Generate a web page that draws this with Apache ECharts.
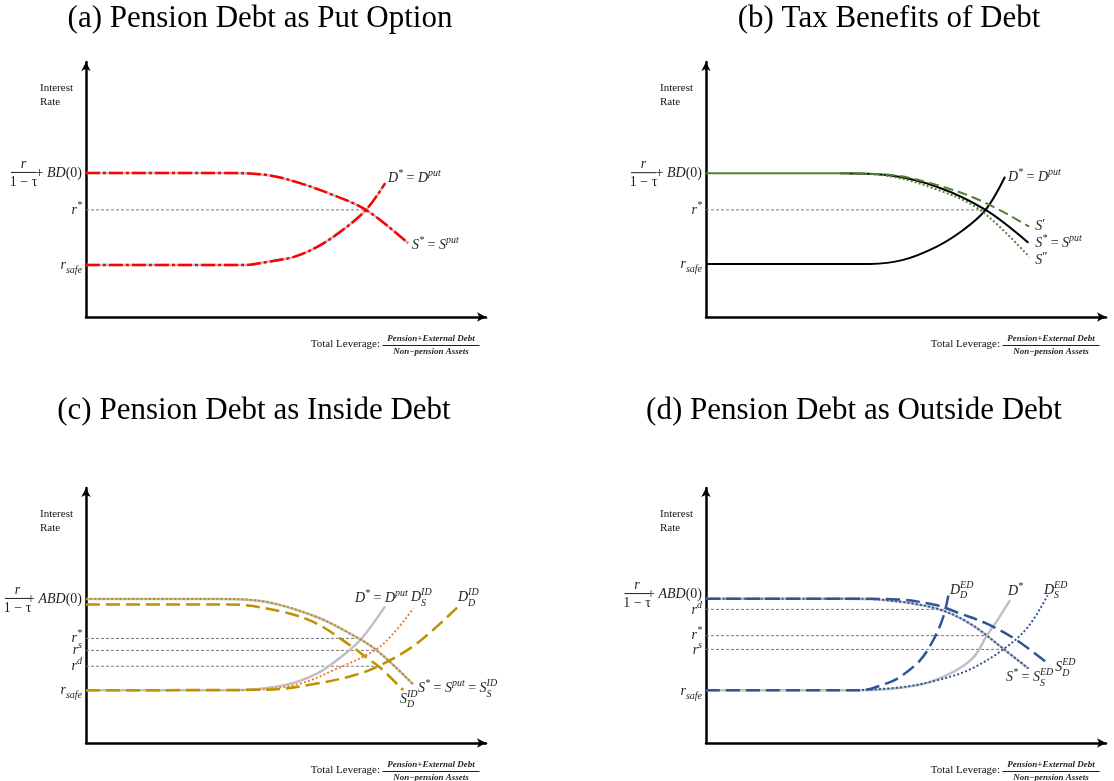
<!DOCTYPE html>
<html><head><meta charset="utf-8">
<script src="https://cdn.jsdelivr.net/npm/echarts@6/dist/echarts.min.js"></script>
<style>html,body{margin:0;padding:0;background:#fff}#c{width:1114px;height:781px}</style>
</head><body><div id="c"></div>
<script>
// ---------------- DATA (x: total leverage 0-100, y: interest rate 0-100) ----------------
// Panel (a)
const aSupply = [[0,56.5],[33.5,56.5],[45.2,55.7],[53.5,52.5],[61.8,47.8],[70,42],[80.5,29]];
const aDemand = [[0,20.4],[40,20.4],[45.2,21.6],[51.8,23.5],[57.8,27.5],[63.5,33.3],[70,42],[74.8,52.5]];
const aLevels = [42];            // r*
const aLevelEnds = [70];
// Panel (b)
const bTop = [[0,56.4],[33.5,56.4]];
const bSupply = [[33.5,56.4],[45.2,55.7],[57.7,51.1],[69.9,42],[80.6,29.1]];
const bSupplyP = [[33.5,56.4],[45.2,55.9],[57.7,51.8],[69.3,45.2],[80.8,35.4]];
const bSupplyPP = [[33.5,56.4],[45.2,55.4],[57.7,50],[68.5,42],[80.8,23.6]];
const bDemand = [[0,20.8],[41,20.8],[49.3,22.4],[57.7,27.6],[64.3,34.1],[69.9,42],[74.75,55]];
const bLevels = [42];
const bLevelEnds = [69.9];
// Panel (c)
const cSupply = [[0,56.5],[33.5,56.5],[45.2,55.3],[57.7,49.4],[66,42.9],[72.5,36.6],[81.8,23]];
const cSupplyD = [[0,54.3],[36,54.3],[49.3,51.4],[57.7,46.8],[66,38.3],[70.2,33.4],[73.5,29.6],[79.3,20.7]];
const cDemand = [[0,20.7],[36.8,20.7],[49.3,22.6],[57.7,27.2],[64.3,34.4],[68.9,41],[74.75,53.6]];
const cDemandS = [[36.8,20.7],[41.8,20.8],[53.5,23.3],[61.8,28.5],[72.25,36.4],[76.8,42.9],[81.8,52.7]];
const cDemandD = [[0,20.7],[45.2,20.9],[57.7,23.3],[66.8,26.5],[73.1,30.1],[82.7,39],[93.1,53.6]];
const cLevels = [41, 36.3, 30.1];   // r*, r^s, r^d
const cLevelEnds = [68.9, 72.25, 73.1];
// Panel (d)
const dSupply = [[0,56.6],[35,56.6],[45.2,56],[57.7,52.7],[66,46.8],[74.3,37],[80.6,29.2]];
const dSupplyD = [[0,56.6],[35,56.6],[47.7,56.3],[57.7,54],[64,50.5],[70.2,46.8],[77.5,40.5],[86,30.5]];
const dDemand = [[0,20.7],[38.5,20.7],[52.7,22.6],[61,27.2],[66.8,33.5],[70.2,42.1],[73,48.5],[76,56]];
const dDemandD = [[0,20.7],[38.5,20.7],[45.2,23.4],[48.5,25.9],[53.5,32.4],[56.8,40.3],[59.3,49.4],[60.8,59.5]];
const dDemandS = [[38,20.7],[48.5,21.8],[56.8,24.2],[65.5,28.5],[74.3,36.7],[80.5,45.5],[85.4,57.9]];
const dLevels = [52.4, 42.1, 36.7];  // r^d, r*, r^s
const dLevelEnds = [59.75, 70.2, 74.3];
// Tick label levels
const aTickVals = [56.5, 42, 20.4];
const bTickVals = [56.4, 42, 20.8];
const cTickVals = [56.5, 41, 36.3, 30.1, 20.7];
const dTickVals = [58.4, 52.2, 42.1, 36.5, 20.4];
const titles = ['(a) Pension Debt as Put Option','(b) Tax Benefits of Debt','(c) Pension Debt as Inside Debt','(d) Pension Debt as Outside Debt'];

// ---------------- STYLE ----------------
const TXT = '#1f1f1f';
const MF = "'Liberation Serif', 'Times New Roman', serif";
const C = {red:'#ff0000', grey:'#c0c0c0', green:'#548235', black:'#000000', gold:'#bf9000', orange:'#ed7d31', blue:'#2f5597', ref:'#7a7a7a'};
const RICH = {
  m:{fontFamily:MF, fontStyle:'italic', fontSize:14, lineHeight:20, color:TXT},
  n:{fontFamily:MF, fontSize:14, lineHeight:20, color:TXT},
  sp:{fontFamily:MF, fontStyle:'italic', fontSize:10, lineHeight:10, verticalAlign:'top', color:TXT},
  pr:{fontFamily:MF, fontSize:13, lineHeight:14, verticalAlign:'top', color:TXT},
  sb:{fontFamily:MF, fontStyle:'italic', fontSize:10, lineHeight:10, verticalAlign:'bottom', color:TXT},
  sbx:{fontFamily:MF, fontStyle:'italic', fontSize:10, lineHeight:10, color:TXT}
};
const cvs = document.createElement('canvas').getContext('2d');
function tw(text, st){ cvs.font = (st.fontStyle||'normal')+' normal '+st.fontSize+'px '+st.fontFamily; return cvs.measureText(text).width; }

function mathLabel(coord, tokens, align){
  align = align || 'left';
  const parts = [], extras = []; let x = 0;
  tokens.forEach(t => {
    if (t[0] === 'ss') { parts.push('{sp|'+t[1]+'}'); extras.push({txt:t[2], dx:x}); x += tw(t[1], RICH.sp); }
    else { parts.push('{'+t[0]+'|'+t[1]+'}'); x += tw(t[1], RICH[t[0]]); }
  });
  const ox = align === 'right' ? -4 : 0;
  const items = [{coord:coord, symbol:'circle', symbolSize:0, label:{show:true, position:'inside', align:align, verticalAlign:'middle', offset:[ox,0], formatter:()=>parts.join(''), rich:RICH}}];
  extras.forEach(e => items.push({coord:coord, symbol:'circle', symbolSize:0, label:{show:true, position:'inside', align:'left', verticalAlign:'middle', offset:[ox+e.dx, 5.5], formatter:()=>'{sbx|'+e.txt+'}', rich:RICH}}));
  return items;
}
function line(grid, data, color, width, type, z){
  return {type:'line', xAxisIndex:grid, yAxisIndex:grid, data:data, smooth:0.35, showSymbol:false, symbol:'none', silent:true, z:z||2,
    lineStyle:{color:color, width:width, type:type||'solid', cap:'butt'}};
}
function refSeries(grid, levels, ends, marks){
  const out = levels.map((lv,i) => Object.assign(line(grid, [[0,lv],[ends[i],lv]], C.ref, 1, [3,2], 1), {smooth:false}));
  out[0].markPoint = {silent:true, data:marks};
  return out;
}
const DASH_DOT = [14,3,3,3], DASH = [14,6], DOT = [2,2.2];

const grids = [
  {left:86, top:62, width:400, height:255},
  {left:706, top:62, width:400, height:255},
  {left:86, top:488, width:400, height:255},
  {left:706, top:488, width:400, height:255}
];
function axis(i){ return {gridIndex:i, type:'value', min:0, max:100,
  axisLine:{show:true, onZero:false, symbol:['none','arrow'], symbolSize:[7,9], lineStyle:{color:'#000', width:2.5}},
  axisTick:{show:false}, axisLabel:{show:false}, splitLine:{show:false}}; }

const star = ['sp','*'];
const marksA = [
  ...mathLabel([0,aTickVals[0]], [['n','+ '],['m','BD'],['n','(0)']], 'right'),
  ...mathLabel([0,aTickVals[1]], [['m','r'],star], 'right'),
  ...mathLabel([0,aTickVals[2]], [['m','r'],['sb','safe']], 'right'),
  ...mathLabel([75.5,54.5], [['m','D'],star,['n',' = '],['m','D'],['sp','put']]),
  ...mathLabel([81.5,28.2], [['m','S'],star,['n',' = '],['m','S'],['sp','put']])
];
const marksB = [
  ...mathLabel([0,bTickVals[0]], [['n','+ '],['m','BD'],['n','(0)']], 'right'),
  ...mathLabel([0,bTickVals[1]], [['m','r'],star], 'right'),
  ...mathLabel([0,bTickVals[2]], [['m','r'],['sb','safe']], 'right'),
  ...mathLabel([75.5,54.9], [['m','D'],star,['n',' = '],['m','D'],['sp','put']]),
  ...mathLabel([82.3,35.4], [['m','S'],['pr','′']]),
  ...mathLabel([82.3,29], [['m','S'],star,['n',' = '],['m','S'],['sp','put']]),
  ...mathLabel([82.3,22.4], [['m','S'],['pr','″']])
];
const marksC = [
  ...mathLabel([0,cTickVals[0]], [['n','+ '],['m','ABD'],['n','(0)']], 'right'),
  ...mathLabel([0,cTickVals[1]], [['m','r'],star], 'right'),
  ...mathLabel([0,cTickVals[2]], [['m','r'],['sp','s']], 'right'),
  ...mathLabel([0,cTickVals[3]], [['m','r'],['sp','d']], 'right'),
  ...mathLabel([0,cTickVals[4]], [['m','r'],['sb','safe']], 'right'),
  ...mathLabel([67.25,56.7], [['m','D'],star,['n',' = '],['m','D'],['sp','put']]),
  ...mathLabel([81.25,57.1], [['m','D'],['ss','ID','S']]),
  ...mathLabel([93,57.1], [['m','D'],['ss','ID','D']]),
  ...mathLabel([78.5,17.2], [['m','S'],['ss','ID','D']]),
  ...mathLabel([83,21.3], [['m','S'],star,['n',' = '],['m','S'],['sp','put'],['n',' = '],['m','S'],['ss','ID','S']])
];
const marksD = [
  ...mathLabel([0,dTickVals[0]], [['n','+ '],['m','ABD'],['n','(0)']], 'right'),
  ...mathLabel([0,dTickVals[1]], [['m','r'],['sp','d']], 'right'),
  ...mathLabel([0,dTickVals[2]], [['m','r'],star], 'right'),
  ...mathLabel([0,dTickVals[3]], [['m','r'],['sp','s']], 'right'),
  ...mathLabel([0,dTickVals[4]], [['m','r'],['sb','safe']], 'right'),
  ...mathLabel([61,59.9], [['m','D'],['ss','ED','D']]),
  ...mathLabel([75.5,59.3], [['m','D'],star]),
  ...mathLabel([84.5,59.9], [['m','D'],['ss','ED','S']]),
  ...mathLabel([87.3,29.6], [['m','S'],['ss','ED','D']]),
  ...mathLabel([75,25.6], [['m','S'],star,['n',' = '],['m','S'],['ss','ED','S']])
];

const series = [
  // (a)
  ...refSeries(0, aLevels, aLevelEnds, marksA),
  line(0, aDemand, C.grey, 2.5, 'solid', 2), line(0, aDemand, C.red, 2.5, DASH_DOT, 3),
  line(0, aSupply, C.grey, 2.5, 'solid', 2), line(0, aSupply, C.red, 2.5, DASH_DOT, 3),
  // (b)
  ...refSeries(1, bLevels, bLevelEnds, marksB),
  line(1, bDemand, C.black, 2, 'solid', 2),
  line(1, bSupply, C.black, 2, 'solid', 2),
  line(1, bSupplyP, C.green, 2, [10,5], 3),
  line(1, bSupplyPP, C.green, 2, DOT, 3),
  line(1, bTop, C.green, 2, 'solid', 3),
  // (c)
  ...refSeries(2, cLevels, cLevelEnds, marksC),
  line(2, cSupply, C.grey, 2.5, 'solid', 2), line(2, cSupply, C.gold, 2, DOT, 3),
  line(2, cDemand, C.grey, 2.5, 'solid', 2),
  line(2, cDemandS, C.orange, 2, DOT, 3),
  line(2, cSupplyD, C.gold, 2.5, DASH, 4),
  line(2, cDemandD, C.gold, 2.5, DASH, 4),
  // (d)
  ...refSeries(3, dLevels, dLevelEnds, marksD),
  line(3, dSupply, C.grey, 2.5, 'solid', 2), line(3, dSupply, C.blue, 2, DOT, 3),
  line(3, dDemand, C.grey, 2.5, 'solid', 2),
  line(3, dDemandS, C.blue, 2, DOT, 3),
  line(3, dSupplyD, C.blue, 2.5, DASH, 4),
  line(3, dDemandD, C.blue, 2.5, DASH, 4)
];

const chart = echarts.init(document.getElementById('c'), null, {renderer:'canvas'});
chart.setOption({
  animation:false, backgroundColor:'#fff',
  grid:grids,
  xAxis:[0,1,2,3].map(axis), yAxis:[0,1,2,3].map(axis),
  series:series
});

// ---------------- text furniture positioned through the grids ----------------
const G = [];
const titlePos = [[260,19],[889,19],[254,411],[854,411]];
titles.forEach((t,i) => G.push({type:'text', x:titlePos[i][0], y:titlePos[i][1], style:{text:t, fill:'#000', font:'31px '+MF, align:'center', textAlign:'center', verticalAlign:'middle', textVerticalAlign:'middle'}}));
const fracLevels = [aTickVals[0], bTickVals[0], cTickVals[0], dTickVals[0]];
const fracOff = [62.5, 62.5, 68.5, 69];
for (let i = 0; i < 4; i++) {
  const o = chart.convertToPixel({gridIndex:i}, [0,0]);
  const tr = chart.convertToPixel({gridIndex:i}, [100,100]);
  const ax = o[0], ay = o[1], rx = tr[0], ty = tr[1];
  G.push({type:'text', x:ax-46, y:ty+26, style:{text:'Interest', fill:'#111', font:'11px '+MF, align:'left', textAlign:'left', verticalAlign:'middle', textVerticalAlign:'middle'}});
  G.push({type:'text', x:ax-46, y:ty+40, style:{text:'Rate', fill:'#111', font:'11px '+MF, align:'left', textAlign:'left', verticalAlign:'middle', textVerticalAlign:'middle'}});
  // fraction r / (1 - tau)
  const p = chart.convertToPixel({gridIndex:i}, [0, fracLevels[i]]);
  const cx = p[0] - fracOff[i], cy = p[1];
  G.push({type:'text', x:cx, y:cy-9, style:{text:'r', fill:TXT, font:'italic 14px '+MF, align:'center', textAlign:'center', verticalAlign:'middle', textVerticalAlign:'middle'}});
  G.push({type:'line', shape:{x1:cx-12.5, y1:cy-0.5, x2:cx+12.5, y2:cy-0.5}, style:{stroke:TXT, lineWidth:1}});
  G.push({type:'text', x:cx, y:cy+9, style:{text:'1 − τ', fill:TXT, font:'14px '+MF, align:'center', textAlign:'center', verticalAlign:'middle', textVerticalAlign:'middle'}});
  // x axis title
  G.push({type:'text', x:rx-106, y:ay+27, style:{text:'Total Leverage:', fill:'#111', font:'11px '+MF, align:'right', textAlign:'right', verticalAlign:'middle', textVerticalAlign:'middle'}});
  const fx = rx - 55;
  G.push({type:'text', x:fx, y:ay+21.5, style:{text:'Pension+External Debt', fill:TXT, font:'italic bold 9px '+MF, align:'center', textAlign:'center', verticalAlign:'middle', textVerticalAlign:'middle'}});
  G.push({type:'line', shape:{x1:fx-48.5, y1:ay+28.5, x2:fx+48.5, y2:ay+28.5}, style:{stroke:TXT, lineWidth:1}});
  G.push({type:'text', x:fx, y:ay+35, style:{text:'Non−pension Assets', fill:TXT, font:'italic bold 9px '+MF, align:'center', textAlign:'center', verticalAlign:'middle', textVerticalAlign:'middle'}});
}
chart.setOption({graphic:{elements:G}});
</script>
</body></html>
